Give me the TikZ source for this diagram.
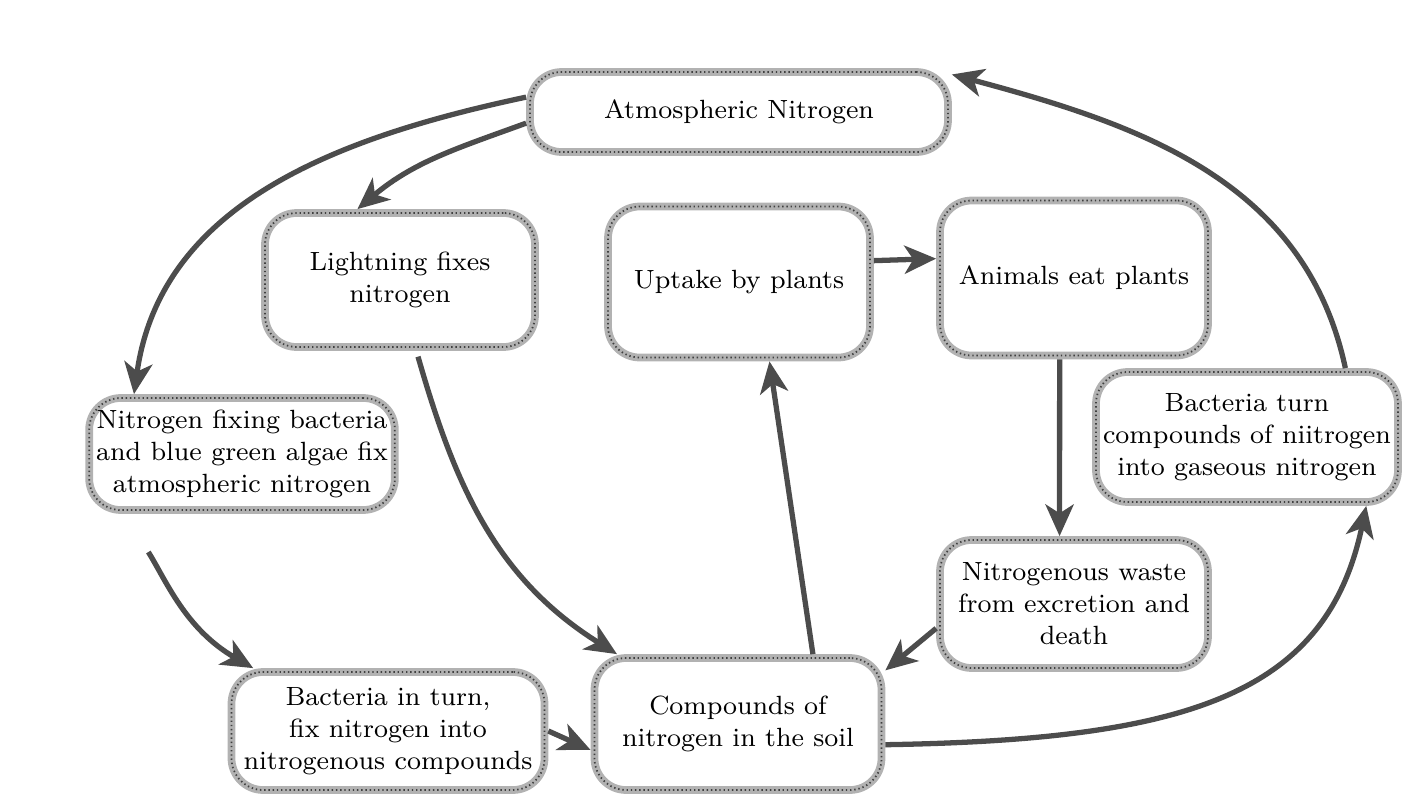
\documentclass[tikz,border=0pt]{standalone}
\usetikzlibrary{arrows.meta}
\begin{document}
\begin{tikzpicture}[
        stage/.style={draw=gray!60, line width=2.2pt, rounded corners=9pt, align=center,
            font=\fontsize{7.5}{9.1}\selectfont, inner sep=2pt,
            postaction={draw=black!75, line width=0.5pt, dash pattern=on 0.4pt off 0.8pt}},
        flow/.style={draw=black!70, line width=1.5pt, -{Stealth[length=9pt,width=8pt,inset=2.5pt]}}
    ]
        \useasboundingbox (0,0) rectangle (14.13,8.07);

        \node[stage, minimum width=4.18cm, minimum height=0.80cm] (atm) at (7.39,6.95) {Atmospheric Nitrogen};
        \node[stage, minimum width=2.70cm, minimum height=1.34cm] (light) at (4.00,5.27) {Lightning fixes\\nitrogen};
        \node[stage, minimum width=2.62cm, minimum height=1.51cm] (uptake) at (7.39,5.25) {Uptake by plants};
        \node[stage, minimum width=2.68cm, minimum height=1.55cm] (animals) at (10.74,5.29) {Animals eat plants};
        \node[stage, minimum width=2.95cm, minimum height=1.12cm] (nfix) at (2.42,3.53) {Nitrogen fixing bacteria\\and blue green algae fix\\atmospheric nitrogen};
        \node[stage, minimum width=2.85cm, minimum height=1.30cm] (bturn) at (12.47,3.70) {Bacteria turn\\compounds of niitrogen\\into gaseous nitrogen};
        \node[stage, minimum width=2.68cm, minimum height=1.28cm] (waste) at (10.74,2.03) {Nitrogenous waste\\from excretion and\\death};
        \node[stage, minimum width=3.13cm, minimum height=1.18cm] (binturn) at (3.88,0.76) {Bacteria in turn,\\fix nitrogen into\\nitrogenous compounds};
        \node[stage, minimum width=2.87cm, minimum height=1.32cm] (soil) at (7.38,0.83) {Compounds of\\nitrogen in the soil};

        \draw[flow] (atm.176) to[out=192,in=82] (nfix.151);
        \draw[flow] (atm.183) to[out=200,in=40] (light.121);
        \draw[flow, shorten <=0.06cm] (light.-77) to[out=-74,in=148] (soil.150);
        \draw[flow, shorten <=0.45cm] (nfix.207) to[out=-58,in=150] (binturn.155);
        \draw[flow] (binturn.east) -- (soil.190);
        \draw[flow] (soil.43) -- (uptake.-69);
        \draw[flow] (uptake.9) -- (animals.172);
        \draw[flow] (animals.-100) -- (waste.102);
        \draw[flow] (waste.190) -- (soil.20);
        \draw[flow] (soil.-8) .. controls +(3.0,0.05) and +(-0.4,-1.9) .. (bturn.-30);
        \draw[flow] (bturn.35) to[out=102,in=-15] (atm.10);

    \end{tikzpicture}
\end{document}
